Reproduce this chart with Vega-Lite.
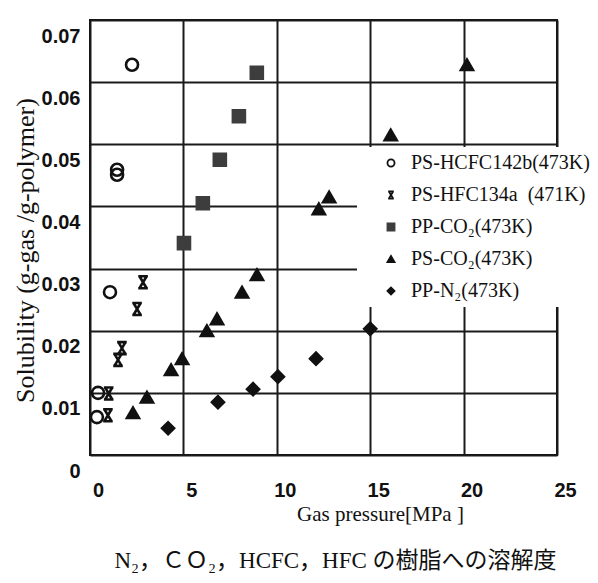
{
  "$schema": "https://vega.github.io/schema/vega-lite/v6.json",
  "autosize": {"type": "none"},
  "padding": {"left": 90, "top": 20, "right": 41, "bottom": 128},
  "width": 467,
  "height": 435,
  "background": "white",
  "config": {
    "view": {"stroke": "#111", "strokeWidth": 2},
    "axis": {"gridColor": "#1a1a1a", "gridWidth": 2, "gridOpacity": 1}
  },
  "title": {
    "text": "N₂，ＣＯ₂，HCFC，HFC の樹脂への溶解度",
    "orient": "bottom",
    "anchor": "middle",
    "font": "Liberation Serif, Noto Sans CJK JP",
    "fontSize": 23,
    "fontWeight": "normal",
    "color": "#111",
    "offset": 26,
    "dx": 12
  },
  "data": {
    "values": [
      {"series": "PS-HCFC142b(473K)", "p": 2.25, "s": 0.0628},
      {"series": "PS-HCFC142b(473K)", "p": 1.45, "s": 0.0459},
      {"series": "PS-HCFC142b(473K)", "p": 1.45, "s": 0.0451},
      {"series": "PS-HCFC142b(473K)", "p": 1.07, "s": 0.0262},
      {"series": "PS-HCFC142b(473K)", "p": 0.43, "s": 0.0100},
      {"series": "PS-HCFC142b(473K)", "p": 0.37, "s": 0.0061},
      {"series": "PS-HFC134a\u00a0\u00a0(471K)", "p": 2.84, "s": 0.0278},
      {"series": "PS-HFC134a\u00a0\u00a0(471K)", "p": 2.52, "s": 0.0235},
      {"series": "PS-HFC134a\u00a0\u00a0(471K)", "p": 1.71, "s": 0.0172},
      {"series": "PS-HFC134a\u00a0\u00a0(471K)", "p": 1.50, "s": 0.0153},
      {"series": "PS-HFC134a\u00a0\u00a0(471K)", "p": 1.00, "s": 0.0099},
      {"series": "PS-HFC134a\u00a0\u00a0(471K)", "p": 0.96, "s": 0.0064},
      {"series": "PP-CO₂(473K)", "p": 5.03, "s": 0.0341},
      {"series": "PP-CO₂(473K)", "p": 6.04, "s": 0.0405},
      {"series": "PP-CO₂(473K)", "p": 6.95, "s": 0.0475},
      {"series": "PP-CO₂(473K)", "p": 7.97, "s": 0.0545},
      {"series": "PP-CO₂(473K)", "p": 8.93, "s": 0.0615},
      {"series": "PS-CO₂(473K)", "p": 2.30, "s": 0.0068},
      {"series": "PS-CO₂(473K)", "p": 3.05, "s": 0.0093},
      {"series": "PS-CO₂(473K)", "p": 4.34, "s": 0.0137},
      {"series": "PS-CO₂(473K)", "p": 4.93, "s": 0.0155},
      {"series": "PS-CO₂(473K)", "p": 6.26, "s": 0.0200},
      {"series": "PS-CO₂(473K)", "p": 6.80, "s": 0.0219},
      {"series": "PS-CO₂(473K)", "p": 8.14, "s": 0.0262},
      {"series": "PS-CO₂(473K)", "p": 8.94, "s": 0.0290},
      {"series": "PS-CO₂(473K)", "p": 12.25, "s": 0.0396},
      {"series": "PS-CO₂(473K)", "p": 12.80, "s": 0.0415},
      {"series": "PS-CO₂(473K)", "p": 16.10, "s": 0.0515},
      {"series": "PS-CO₂(473K)", "p": 20.18, "s": 0.0628},
      {"series": "\u00a0PP-N₂(473K)", "p": 4.18, "s": 0.0043},
      {"series": "\u00a0PP-N₂(473K)", "p": 6.85, "s": 0.0085},
      {"series": "\u00a0PP-N₂(473K)", "p": 8.73, "s": 0.0106},
      {"series": "\u00a0PP-N₂(473K)", "p": 10.06, "s": 0.0126},
      {"series": "\u00a0PP-N₂(473K)", "p": 12.10, "s": 0.0155},
      {"series": "\u00a0PP-N₂(473K)", "p": 15.00, "s": 0.0203}
    ]
  },
  "mark": {"type": "point", "filled": true, "size": 144, "strokeWidth": 2.6, "opacity": 1},
  "encoding": {
    "x": {
      "field": "p", "type": "quantitative",
      "scale": {"domain": [0, 25], "nice": false, "zero": true},
      "axis": {
        "values": [0, 5, 10, 15, 20, 25],
        "grid": true, "domain": false, "ticks": false,
        "labelFont": "Liberation Sans", "labelFontWeight": "bold", "labelFontSize": 20,
        "labelColor": "#111", "labelPadding": 25, "labelOffset": 8, "labelFlush": false, "labelOverlap": false,
        "title": "Gas pressure[MPa ]",
        "titleFont": "Liberation Serif", "titleFontSize": 21, "titleFontWeight": "normal", "titleColor": "#111",
        "titleX": 290, "titleY": 59, "titleBaseline": "middle", "titleAlign": "center"
      }
    },
    "y": {
      "field": "s", "type": "quantitative",
      "scale": {"domain": [0, 0.07], "nice": false, "zero": true},
      "axis": {
        "values": [0, 0.01, 0.02, 0.03, 0.04, 0.05, 0.06, 0.07],
        "labelExpr": "datum.value == 0 ? '0' : format(datum.value, '.2f')",
        "grid": true, "domain": false, "ticks": false,
        "labelFont": "Liberation Sans", "labelFontWeight": "bold", "labelFontSize": 20,
        "labelColor": "#111", "labelPadding": 10, "labelOffset": 16, "labelFlush": false, "labelOverlap": false,
        "title": "Solubility (g-gas /g-polymer)",
        "titleFont": "Liberation Serif", "titleFontSize": 26, "titleFontWeight": "normal", "titleColor": "#111",
        "titleX": -65, "titleY": 230, "titleBaseline": "middle", "titleAlign": "center", "titleAngle": -90
      }
    },
    "shape": {
      "field": "series", "type": "nominal",
      "scale": {
        "domain": ["PS-HCFC142b(473K)", "PS-HFC134a\u00a0\u00a0(471K)", "PP-CO₂(473K)", "PS-CO₂(473K)", "\u00a0PP-N₂(473K)"],
        "range": ["circle", "M-0.8,-1H0.8M-0.8,1H0.8M-0.6,-1L0.6,1M0.6,-1L-0.6,1", "square", "triangle-up", "diamond"]
      },
      "legend": {
        "title": null, "orient": "none", "legendX": 267, "legendY": 127,
        "fillColor": "white", "padding": 6, "symbolSize": 50, "symbolStrokeWidth": 1.8,
        "symbolOffset": 18, "labelOffset": 10,
        "labelFont": "Liberation Serif", "labelFontSize": 20, "labelColor": "#111", "labelLimit": 300,
        "rowPadding": 12
      }
    },
    "fill": {
      "field": "series", "type": "nominal",
      "scale": {
        "domain": ["PS-HCFC142b(473K)", "PS-HFC134a\u00a0\u00a0(471K)", "PP-CO₂(473K)", "PS-CO₂(473K)", "\u00a0PP-N₂(473K)"],
        "range": ["transparent", "transparent", "#3d3d3d", "#111111", "#111111"]
      },
      "legend": {
        "title": null, "orient": "none", "legendX": 267, "legendY": 127,
        "fillColor": "white", "padding": 6, "symbolSize": 50, "symbolStrokeWidth": 1.8,
        "symbolOffset": 18, "labelOffset": 10,
        "labelFont": "Liberation Serif", "labelFontSize": 20, "labelColor": "#111", "labelLimit": 300,
        "rowPadding": 12
      }
    },
    "stroke": {
      "field": "series", "type": "nominal",
      "scale": {
        "domain": ["PS-HCFC142b(473K)", "PS-HFC134a\u00a0\u00a0(471K)", "PP-CO₂(473K)", "PS-CO₂(473K)", "\u00a0PP-N₂(473K)"],
        "range": ["#111111", "#111111", "#3d3d3d", "#111111", "#111111"]
      },
      "legend": {
        "title": null, "orient": "none", "legendX": 267, "legendY": 127,
        "fillColor": "white", "padding": 6, "symbolSize": 50, "symbolStrokeWidth": 1.8,
        "symbolOffset": 18, "labelOffset": 10,
        "labelFont": "Liberation Serif", "labelFontSize": 20, "labelColor": "#111", "labelLimit": 300,
        "rowPadding": 12
      }
    }
  }
}
